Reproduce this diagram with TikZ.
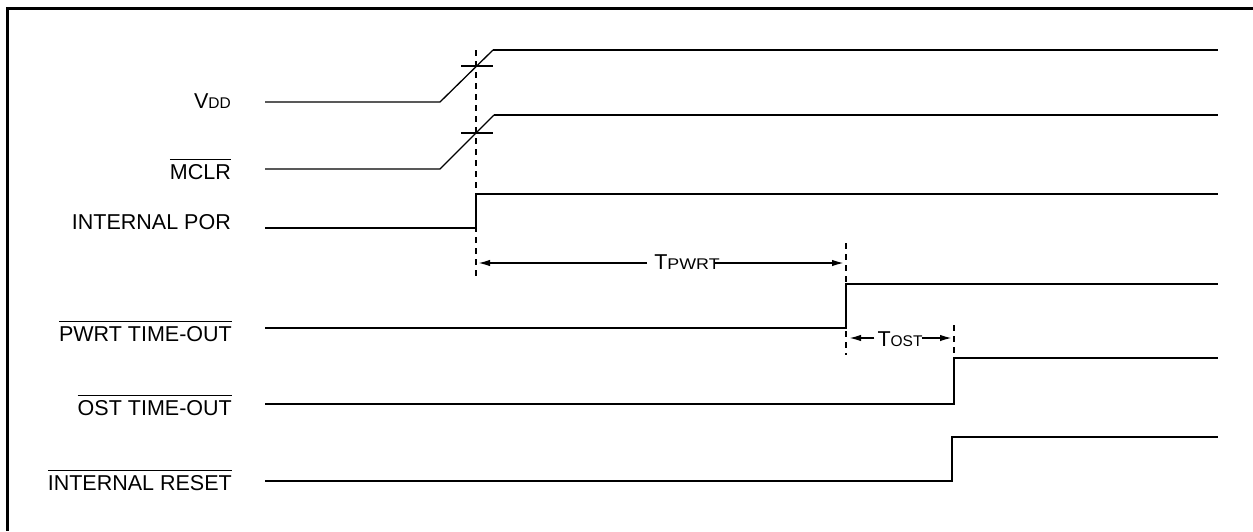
\documentclass[tikz,border=0pt]{standalone}
\usepackage{fontspec}
\setmainfont{Liberation Sans}
\usepackage{graphicx}
\usetikzlibrary{arrows.meta}
\newcommand\ovl[1]{\setbox0\hbox{#1}\rlap{\raisebox{\dimexpr\ht0+3.5pt\relax}{\rule{\wd0}{1.6pt}}}\box0}
\newcommand\sm[1]{{\fontsize{15.5}{17}\selectfont #1}}
\begin{document}
\begin{tikzpicture}[x=1pt,y=-1pt,
  lbl/.style={anchor=base east,inner sep=0pt,font=\fontsize{21.5}{25}\selectfont},
  dimtxt/.style={anchor=base,inner sep=0pt,font=\fontsize{21.5}{25}\selectfont},
  sig/.style={line width=2.4pt,line join=miter},
  thinsig/.style={line width=1.3pt},
  guide/.style={line width=1.8pt,dash pattern=on 6pt off 5pt},
  dimarrow/.style={line width=1.7pt,-{Latex[length=12pt,width=6.5pt]}},
  frame/.style={line width=3pt}]
\useasboundingbox (0,0) rectangle (1253,531);
% frame (top and left edges)
\draw[frame] (1253,8) -- (7,8) -- (7,531);
% labels
\node[lbl] (lvdd) at (231,108) {V\sm{DD}};
\node[lbl] (lmclr) at (231,179) {\ovl{MCLR}};
\node[lbl] (lpor) at (231,229) {INTERNAL POR};
\node[lbl] (lpwrt) at (232,341) {\ovl{PWRT TIME-OUT}};
\node[lbl] (lost) at (232,415) {\ovl{OST TIME-OUT}};
\node[lbl] (lrst) at (232,490) {\ovl{INTERNAL RESET}};
% VDD
\draw[thinsig] (265,102) -- (440,102) -- (493,50);
\draw[sig] (493,50) -- (1218,50);
\draw[sig] (461,66) -- (493,66);
% MCLR
\draw[thinsig] (265,169) -- (440,169) -- (494,115);
\draw[sig] (494,115) -- (1218,115);
\draw[sig] (461,133) -- (493,133);
% guides
\draw[guide] (476,50) -- (476,280);
\draw[guide] (846,243) -- (846,355);
\draw[guide] (954,325) -- (954,358);
% INTERNAL POR
\draw[sig] (265,228) -- (476,228) -- (476,194) -- (1218,194);
% PWRT
\draw[sig] (265,328) -- (846,328) -- (846,284) -- (1218,284);
% OST
\draw[sig] (265,404) -- (954,404) -- (954,358) -- (1218,358);
% INTERNAL RESET
\draw[sig] (265,481) -- (952,481) -- (952,437) -- (1218,437);
% TPWRT
\coordinate (p1) at (478,263);
\coordinate (p2) at (844,263);
\node[dimtxt] (tp) at (687,269) {T\sm{\scalebox{1.15}[1]{PWRT}}};
\draw[dimarrow] ([xshift=-7pt]tp.west |- p1) -- (p1);
\draw[dimarrow] ([xshift=-5pt]tp.east |- p2) -- (p2);
% TOST
\coordinate (o1) at (849,338);
\coordinate (o2) at (952,338);
\node[dimtxt] (to) at (900,346) {T\sm{OST}};
\draw[dimarrow] ([xshift=-3pt]to.west |- o1) -- (o1);
\draw[dimarrow] ([xshift=-1pt]to.east |- o2) -- (o2);
\end{tikzpicture}
\end{document}
